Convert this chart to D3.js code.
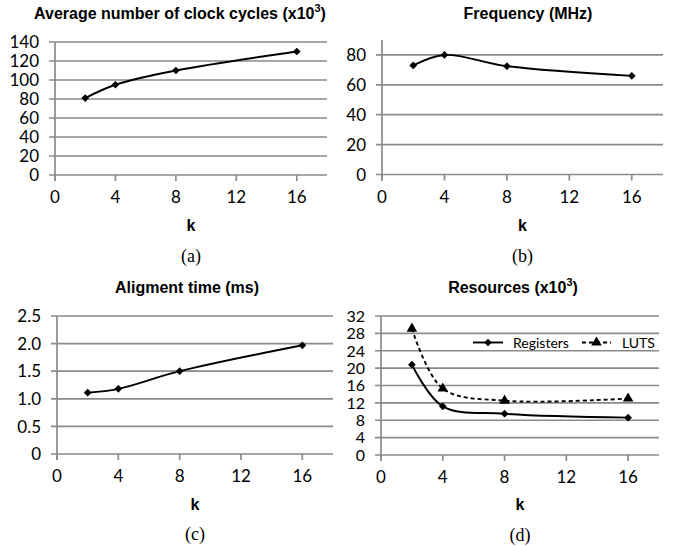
<!DOCTYPE html>
<html lang="en">
<head>
<meta charset="utf-8">
<title>Alignment results</title>
<script src="https://d3js.org/d3.v7.min.js"></script>
<style>
  body { margin: 0; background: #fff; }
  .tick-label { font-family: Lato, "Open Sans", sans-serif; font-size: 17px; fill: #000; }
  .title { font-family: "Liberation Sans", Arial, sans-serif; font-weight: bold; font-size: 16px; }
  .klabel { font-family: "Liberation Sans", Arial, sans-serif; font-weight: bold; font-size: 16px; }
  .caption { font-family: "Liberation Serif", "Times New Roman", serif; font-size: 18px; }
  .legend { font-family: Lato, "Open Sans", sans-serif; font-size: 14px; }
</style>
</head>
<body>
<svg width="673" height="546"></svg>
<script>
// data
const kValues = [2, 4, 8, 16];
const xTicks = [0, 4, 8, 12, 16];

const clockCycles = [81, 95, 110, 130];
const frequency = [73, 80, 72.5, 66];
const alignTime = [1.11, 1.18, 1.5, 1.97];
const registers = [20.8, 11.2, 9.5, 8.6];
const luts = [29.1, 15.3, 12.5, 13.0];

const ticksA = [0, 20, 40, 60, 80, 100, 120, 140];
const ticksB = [0, 20, 40, 60, 80];
const ticksC = [0, 0.5, 1.0, 1.5, 2.0, 2.5];
const ticksD = [0, 4, 8, 12, 16, 20, 24, 28, 32];

const svg = d3.select("svg");
const grey = "#8a8a8a";

const panels = [
  { box: [55, 327, 42, 175], yMax: 140, yTicks: ticksA, fmt: d => d, labelSize: 17,
    title: "Average number of clock cycles (x10", sup: "3", titleX: 180, titleY: 19,
    kY: 231, capY: 262, caption: "(a)",
    series: [{ values: clockCycles, symbol: "diamond", dash: null }] },
  { box: [382, 663, 40, 174.5], yMax: 90, yTicks: ticksB, fmt: d => d, labelSize: 17,
    title: "Frequency (MHz)", titleX: 528, titleY: 19,
    kY: 231, capY: 262, caption: "(b)",
    series: [{ values: frequency, symbol: "diamond", dash: null }] },
  { box: [57, 333, 316, 454], yMax: 2.5, yTicks: ticksC, labelSize: 17,
    fmt: d => d === 0 ? "0" : d3.format(".1f")(d),
    title: "Aligment time (ms)", titleX: 187, titleY: 293,
    kY: 510, capY: 540, caption: "(c)",
    series: [{ values: alignTime, symbol: "diamond", dash: null }] },
  { box: [381, 659, 316, 455], yMax: 32, yTicks: ticksD, fmt: d => d, labelSize: 16,
    title: "Resources (x10", sup: "3", titleX: 513, titleY: 293,
    kY: 510, capY: 541, caption: "(d)",
    series: [
      { values: registers, symbol: "diamond", dash: null, name: "Registers" },
      { values: luts, symbol: "triangle", dash: "4,3", name: "LUTS" }
    ],
    legend: { y: 342.5 } }
];

function marker(type) {
  return type === "diamond"
    ? d3.symbol(d3.symbolSquare, 30)()
    : d3.symbol(d3.symbolTriangle, 48)();
}

panels.forEach(p => {
  const [left, right, top, bottom] = p.box;
  const x = d3.scaleLinear().domain([0, 18]).range([left, right]);
  const y = d3.scaleLinear().domain([0, p.yMax]).range([bottom, top]);
  const g = svg.append("g");

  // horizontal gridlines with tick stubs
  g.selectAll("line.grid")
    .data(p.yTicks)
    .join("line")
    .attr("x1", left - 6).attr("x2", right)
    .attr("y1", d => y(d)).attr("y2", d => y(d))
    .attr("stroke", grey).attr("stroke-width", 1.7);

  // y axis
  g.append("line")
    .attr("x1", left).attr("x2", left)
    .attr("y1", top).attr("y2", bottom + 6)
    .attr("stroke", grey).attr("stroke-width", 1.7);

  // x tick marks
  g.selectAll("line.xt")
    .data(xTicks)
    .join("line")
    .attr("x1", d => x(d)).attr("x2", d => x(d))
    .attr("y1", bottom).attr("y2", bottom + 6)
    .attr("stroke", grey).attr("stroke-width", 1.7);

  g.selectAll("text.yl")
    .data(p.yTicks)
    .join("text")
    .attr("class", "tick-label")
    .style("font-size", p.labelSize + "px")
    .attr("x", left - 16)
    .attr("y", d => y(d))
    .attr("dy", "0.36em")
    .attr("text-anchor", "end")
    .text(p.fmt);

  g.selectAll("text.xl")
    .data(xTicks)
    .join("text")
    .attr("class", "tick-label")
    .attr("x", d => x(d))
    .attr("y", bottom + 28)
    .attr("text-anchor", "middle")
    .text(d => d);

  const t = g.append("text")
    .attr("class", "title")
    .attr("x", p.titleX).attr("y", p.titleY)
    .attr("text-anchor", "middle")
    .text(p.title);
  if (p.sup) {
    t.append("tspan").attr("dy", -7).attr("font-size", 11).text(p.sup);
    t.append("tspan").attr("dy", 7).text(")");
  }

  g.append("text")
    .attr("class", "klabel")
    .attr("x", (left + right) / 2).attr("y", p.kY)
    .attr("text-anchor", "middle")
    .text("k");

  g.append("text")
    .attr("class", "caption")
    .attr("x", (left + right) / 2).attr("y", p.capY)
    .attr("text-anchor", "middle")
    .text(p.caption);

  const line = d3.line()
    .x((d, i) => x(kValues[i]))
    .y(d => y(d))
    .curve(d3.curveCatmullRom.alpha(0.5));

  p.series.forEach(s => {
    g.append("path")
      .datum(s.values)
      .attr("d", line)
      .attr("fill", "none")
      .attr("stroke", "#000")
      .attr("stroke-width", 1.9)
      .attr("stroke-dasharray", s.dash);

    g.selectAll(null)
      .data(s.values)
      .join("path")
      .attr("d", marker(s.symbol))
      .attr("transform", (d, i) =>
        `translate(${x(kValues[i])},${y(d)})` + (s.symbol === "diamond" ? " rotate(45)" : ""))
      .attr("fill", "#000");
  });

  if (p.legend) {
    const lg = g.append("g");
    const items = [
      { s: p.series[0], x0: 473, x1: 503, tx: 513 },
      { s: p.series[1], x0: 582, x1: 611, tx: 622 }
    ];
    items.forEach(it => {
      lg.append("line")
        .attr("x1", it.x0).attr("x2", it.x1)
        .attr("y1", p.legend.y).attr("y2", p.legend.y)
        .attr("stroke", "#000").attr("stroke-width", 1.9)
        .attr("stroke-dasharray", it.s.dash);
      lg.append("path")
        .attr("d", marker(it.s.symbol))
        .attr("transform", `translate(${(it.x0 + it.x1) / 2},${p.legend.y})` +
          (it.s.symbol === "diamond" ? " rotate(45)" : ""))
        .attr("fill", "#000");
      lg.append("text")
        .attr("class", "legend")
        .attr("x", it.tx).attr("y", p.legend.y)
        .attr("dy", "0.36em")
        .text(it.s.name);
    });
  }
});
</script>
</body>
</html>
